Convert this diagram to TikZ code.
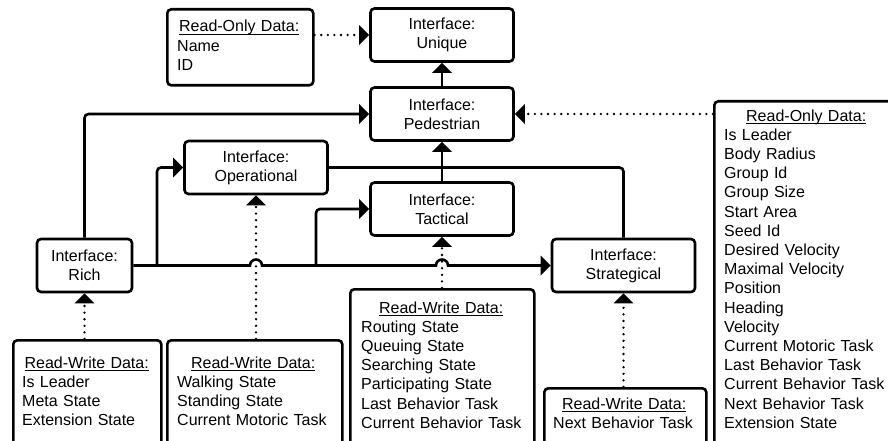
\documentclass[tikz,border=0pt]{standalone}
\usepackage{fontspec}
\setmainfont{Liberation Sans}
\usetikzlibrary{arrows.meta,calc}
\setlength{\parindent}{0pt}
\newcommand\dfont{\fontsize{16}{19.2}\selectfont}
\newcommand\ulhead[2]{\makebox[#1]{\setbox0\hbox{#2}\rlap{\rule[-2.8pt]{\wd0}{1.1pt}}\box0}}
\begin{document}
\begin{tikzpicture}[x=1pt,y=1pt,
  box/.style={draw, line width=2.6pt, rounded corners=4pt, inner sep=0pt},
  iface/.style={box, minimum width=143pt, minimum height=53pt, align=center, font=\dfont},
  databox/.style={box, anchor=north west},
  datatext/.style={inner sep=0pt, anchor=base west, align=left, font=\dfont, text width=220pt},
  conn/.style={line width=2.6pt},
  arr/.style={-{Triangle[width=19pt,length=10pt]}},
  dotline/.style={line width=2.6pt, line cap=round, dash pattern=on 0pt off 6.6pt},
]
\useasboundingbox (0,0) rectangle (888,440);
\clip (0,0) rectangle (888,440);

% interface boxes
\node[iface] (unique) at (442,405) {Interface:\\Unique};
\node[iface] (ped) at (442,326) {Interface:\\Pedestrian};
\node[iface] (oper) at (256,272.5) {Interface:\\Operational};
\node[iface] (tact) at (442,231) {Interface:\\Tactical};
\node[iface, minimum width=95pt] (rich) at (84.5,174.5) {Interface:\\Rich};
\node[iface] (strat) at (623.5,174.5) {Interface:\\Strategical};

% data boxes
\node[databox, minimum width=146pt, minimum height=76pt] (rodtl) at (166,432) {};
\node[datatext] (rodtlt) at (177,408)
  {\ulhead{124pt}{Read-Only Data:}\\Name\\ID};

\node[databox, minimum width=186pt, minimum height=360pt] (rodr) at (713,340) {};
\node[datatext] (rodrt) at (724,319)
  {\ulhead{164pt}{Read-Only Data:}\\Is Leader\\Body Radius\\Group Id\\Group Size\\Start Area\\Seed Id\\Desired Velocity\\Maximal Velocity\\Position\\Heading\\Velocity\\Current Motoric Task\\Last Behavior Task\\Current Behavior Task\\Next Behavior Task\\Extension State};

\node[databox, minimum width=148pt, minimum height=121pt] (rwrich) at (12,101) {};
\node[datatext] (rwricht) at (22,72)
  {\ulhead{129pt}{Read-Write Data:}\\Is Leader\\Meta State\\Extension State};

\node[databox, minimum width=175pt, minimum height=121pt] (rwoper) at (166,101) {};
\node[datatext] (rwopert) at (177,72)
  {\ulhead{152pt}{Read-Write Data:}\\Walking State\\Standing State\\Current Motoric Task};

\node[databox, minimum width=184pt, minimum height=172pt] (rwtact) at (349,152) {};
\node[datatext] (rwtactt) at (361,127)
  {\ulhead{160pt}{Read-Write Data:}\\Routing State\\Queuing State\\Searching State\\Participating State\\Last Behavior Task\\Current Behavior Task};

\node[databox, minimum width=162pt, minimum height=73pt] (rwstrat) at (543,53) {};
\node[datatext] (rwstratt) at (553,31)
  {\ulhead{142pt}{Read-Write Data:}\\Next Behavior Task};

% solid connectors
\draw[conn,arr] (ped.north) -- (unique.south);
\draw[conn,arr] (tact.north) -- (ped.south);
\draw[conn,rounded corners=4pt] (oper.east) -| (strat.north);
\draw[conn,arr,rounded corners=4pt] (rich.north) |- (ped.west);
\coordinate (j1) at (157,174.5);
\coordinate (j2) at (316,174.5);
\draw[conn,arr,rounded corners=4pt] (j1) |- (oper.west);
\draw[conn,arr,rounded corners=4pt] (j2) |- (tact.west);
\draw[conn,arr] (rich.east) -- ($(oper.south|-rich.east)+(-6,0)$)
  arc[start angle=180,end angle=0,radius=6pt]
  -- ($(tact.south|-rich.east)+(-6,0)$)
  arc[start angle=180,end angle=0,radius=6pt]
  -- (strat.west);

% dotted connectors
\draw[dotline,arr] (rodtl.east|-unique.west) -- (unique.west);
\draw[dotline,arr] (rodr.west|-ped.east) -- (ped.east);
\draw[dotline,arr] (rich.south|-rwrich.north) -- (rich.south);
\draw[dotline,arr] (oper.south|-rwoper.north) -- (oper.south);
\draw[dotline,arr] (tact.south|-rwtact.north) -- (tact.south);
\draw[dotline,arr] (strat.south|-rwstrat.north) -- (strat.south);
\end{tikzpicture}
\end{document}
